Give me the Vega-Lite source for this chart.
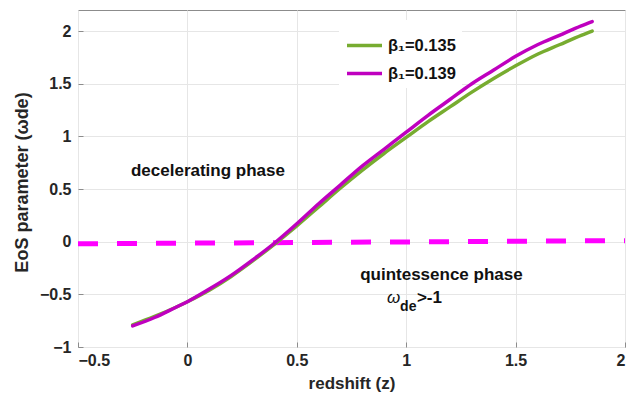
{
  "$schema": "https://vega.github.io/schema/vega-lite/v6.json",
  "autosize": "none",
  "width": 547,
  "height": 337,
  "padding": {"left": 78, "top": 10, "right": 5, "bottom": 54},
  "background": "white",
  "config": {
    "font": "Liberation Sans",
    "view": {"stroke": "#8c8c8c", "strokeWidth": 1},
    "axis": {
      "labelFont": "Liberation Sans",
      "labelFontWeight": "bold",
      "labelFontSize": 16,
      "labelColor": "#262626",
      "titleFont": "Liberation Sans",
      "titleFontWeight": "bold",
      "titleFontSize": 17,
      "titleColor": "#262626",
      "gridColor": "#e6e6e6",
      "gridWidth": 1,
      "domain": false,
      "ticks": true,
      "tickSize": -5,
      "tickColor": "#8c8c8c"
    }
  },
  "datasets": {
    "curves": [
      {"z": -0.25, "w": -0.79, "beta": "β₁=0.135"},
      {"z": -0.15, "w": -0.71, "beta": "β₁=0.135"},
      {"z": -0.05, "w": -0.62, "beta": "β₁=0.135"},
      {"z": 0.0, "w": -0.57, "beta": "β₁=0.135"},
      {"z": 0.1, "w": -0.46, "beta": "β₁=0.135"},
      {"z": 0.2, "w": -0.33, "beta": "β₁=0.135"},
      {"z": 0.3, "w": -0.18, "beta": "β₁=0.135"},
      {"z": 0.4, "w": -0.02, "beta": "β₁=0.135"},
      {"z": 0.5, "w": 0.15, "beta": "β₁=0.135"},
      {"z": 0.6, "w": 0.33, "beta": "β₁=0.135"},
      {"z": 0.7, "w": 0.51, "beta": "β₁=0.135"},
      {"z": 0.8, "w": 0.68, "beta": "β₁=0.135"},
      {"z": 0.9, "w": 0.84, "beta": "β₁=0.135"},
      {"z": 1.0, "w": 0.99, "beta": "β₁=0.135"},
      {"z": 1.1, "w": 1.14, "beta": "β₁=0.135"},
      {"z": 1.2, "w": 1.28, "beta": "β₁=0.135"},
      {"z": 1.3, "w": 1.42, "beta": "β₁=0.135"},
      {"z": 1.4, "w": 1.55, "beta": "β₁=0.135"},
      {"z": 1.5, "w": 1.67, "beta": "β₁=0.135"},
      {"z": 1.6, "w": 1.78, "beta": "β₁=0.135"},
      {"z": 1.7, "w": 1.87, "beta": "β₁=0.135"},
      {"z": 1.8, "w": 1.96, "beta": "β₁=0.135"},
      {"z": 1.85, "w": 2.0, "beta": "β₁=0.135"},
      {"z": -0.25, "w": -0.80, "beta": "β₁=0.139"},
      {"z": -0.15, "w": -0.72, "beta": "β₁=0.139"},
      {"z": -0.05, "w": -0.62, "beta": "β₁=0.139"},
      {"z": 0.0, "w": -0.57, "beta": "β₁=0.139"},
      {"z": 0.1, "w": -0.45, "beta": "β₁=0.139"},
      {"z": 0.2, "w": -0.32, "beta": "β₁=0.139"},
      {"z": 0.3, "w": -0.17, "beta": "β₁=0.139"},
      {"z": 0.4, "w": -0.01, "beta": "β₁=0.139"},
      {"z": 0.5, "w": 0.17, "beta": "β₁=0.139"},
      {"z": 0.6, "w": 0.36, "beta": "β₁=0.139"},
      {"z": 0.7, "w": 0.54, "beta": "β₁=0.139"},
      {"z": 0.8, "w": 0.72, "beta": "β₁=0.139"},
      {"z": 0.9, "w": 0.88, "beta": "β₁=0.139"},
      {"z": 1.0, "w": 1.04, "beta": "β₁=0.139"},
      {"z": 1.1, "w": 1.20, "beta": "β₁=0.139"},
      {"z": 1.2, "w": 1.35, "beta": "β₁=0.139"},
      {"z": 1.3, "w": 1.50, "beta": "β₁=0.139"},
      {"z": 1.4, "w": 1.63, "beta": "β₁=0.139"},
      {"z": 1.5, "w": 1.76, "beta": "β₁=0.139"},
      {"z": 1.6, "w": 1.87, "beta": "β₁=0.139"},
      {"z": 1.7, "w": 1.96, "beta": "β₁=0.139"},
      {"z": 1.8, "w": 2.05, "beta": "β₁=0.139"},
      {"z": 1.85, "w": 2.09, "beta": "β₁=0.139"}
    ],
    "dash": [
      {"z": -0.5, "w": -0.02},
      {"z": 2.0, "w": 0.01}
    ],
    "phases": [
      {"label": "decelerating phase", "z": 0.094, "w": 0.675},
      {"label": "quintessence phase", "z": 1.161, "w": -0.315}
    ],
    "omega": [{"label": "ω", "z": 0.912, "w": -0.584}],
    "sub": [{"label": "de", "z": 0.972, "w": -0.66}],
    "cond": [{"label": ">-1", "z": 1.049, "w": -0.584}]
  },
  "layer": [
    {
      "data": {"name": "dash"},
      "mark": {"type": "line", "color": "#ff00ff", "strokeWidth": 5, "strokeDash": [20, 19], "strokeCap": "butt"},
      "encoding": {
        "x": {"field": "z", "type": "quantitative", "scale": {"domain": [-0.5, 2], "nice": false, "zero": false},
              "axis": {"values": [-0.5, 0, 0.5, 1, 1.5, 2], "format": "~g", "title": "redshift (z)", "labelPadding": 10, "titlePadding": 7}},
        "y": {"field": "w", "type": "quantitative", "scale": {"domain": [-1, 2.2], "nice": false, "zero": false},
              "axis": {"values": [-1, -0.5, 0, 0.5, 1, 1.5, 2], "format": "~g", "title": "EoS parameter (ωde)", "titleFontSize": 18, "labelPadding": 12, "titleX": -56, "titleY": 172, "titleBaseline": "middle", "titleAngle": -90}}
      }
    },
    {
      "data": {"name": "curves"},
      "mark": {"type": "line", "strokeWidth": 3.5, "strokeCap": "round", "interpolate": "monotone"},
      "encoding": {
        "x": {"field": "z", "type": "quantitative"},
        "y": {"field": "w", "type": "quantitative"},
        "color": {
          "field": "beta", "type": "nominal",
          "scale": {"domain": ["β₁=0.135", "β₁=0.139"], "range": ["#77ac30", "#bf00bf"]},
          "legend": {
            "title": null, "orient": "none", "legendX": 261, "legendY": 10,
            "symbolType": "stroke", "symbolSize": 1225, "symbolStrokeWidth": 3.5,
            "labelFontSize": 16.5, "labelFontWeight": "bold", "labelColor": "#111111", "labelFont": "Liberation Sans",
            "labelOffset": 4, "rowPadding": -9, "fillColor": "white", "padding": 6
          }
        }
      }
    },
    {
      "data": {"name": "phases"},
      "mark": {"type": "text", "fontSize": 17, "fontWeight": "bold", "color": "#111111", "align": "center", "baseline": "middle"},
      "encoding": {
        "x": {"field": "z", "type": "quantitative"},
        "y": {"field": "w", "type": "quantitative"},
        "text": {"field": "label"}
      }
    },
    {
      "data": {"name": "omega"},
      "mark": {"type": "text", "fontSize": 17, "fontStyle": "italic", "color": "#111111", "align": "left", "baseline": "alphabetic"},
      "encoding": {
        "x": {"field": "z", "type": "quantitative"},
        "y": {"field": "w", "type": "quantitative"},
        "text": {"field": "label"}
      }
    },
    {
      "data": {"name": "sub"},
      "mark": {"type": "text", "fontSize": 14, "fontWeight": "bold", "color": "#111111", "align": "left", "baseline": "alphabetic"},
      "encoding": {
        "x": {"field": "z", "type": "quantitative"},
        "y": {"field": "w", "type": "quantitative"},
        "text": {"field": "label"}
      }
    },
    {
      "data": {"name": "cond"},
      "mark": {"type": "text", "fontSize": 17, "fontWeight": "bold", "color": "#111111", "align": "left", "baseline": "alphabetic"},
      "encoding": {
        "x": {"field": "z", "type": "quantitative"},
        "y": {"field": "w", "type": "quantitative"},
        "text": {"field": "label"}
      }
    }
  ]
}
